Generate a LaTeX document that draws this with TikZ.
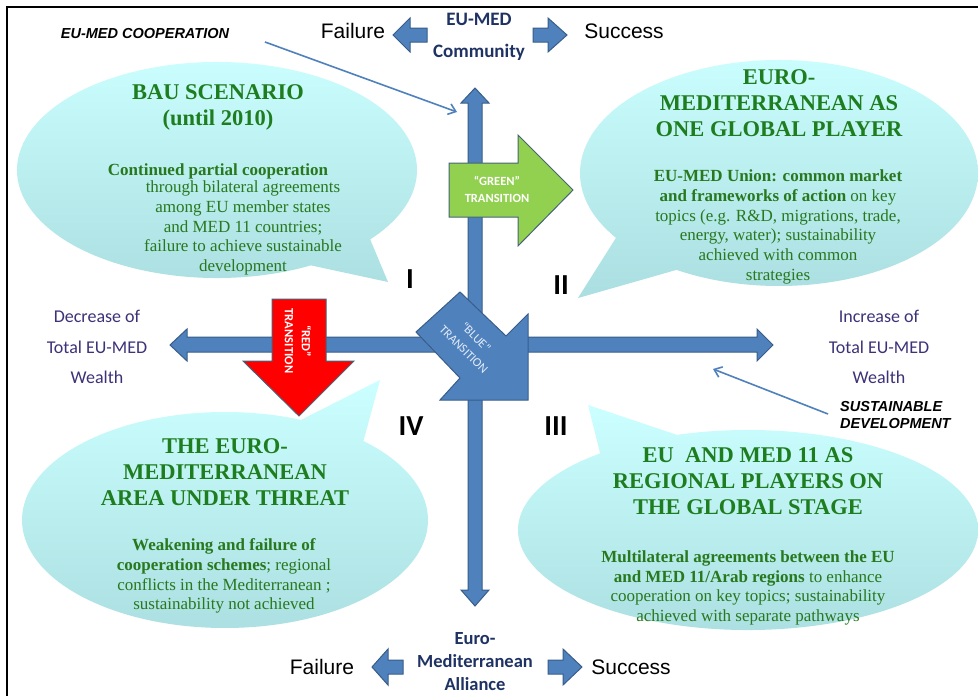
\documentclass[tikz,border=0pt]{standalone}
\usepackage{fontspec}
\setmainfont{Liberation Serif}
\newfontfamily\carlito{Carlito}
\newfontfamily\arialf{Liberation Sans}
\usetikzlibrary{calc,arrows.meta}
\definecolor{axisblue}{RGB}{79,129,189}
\definecolor{axisborder}{RGB}{56,93,138}
\definecolor{grfill}{RGB}{146,208,80}
\definecolor{grborder}{RGB}{70,100,120}
\definecolor{bubtop}{RGB}{204,255,255}
\definecolor{bubbot}{RGB}{170,222,224}
\definecolor{ttlgreen}{RGB}{30,125,30}
\definecolor{txtgreen}{RGB}{40,120,30}
\definecolor{navy}{RGB}{31,50,100}
\definecolor{purnavy}{RGB}{60,50,120}
\newcommand{\myfs}[2]{\fontsize{#1}{#2}\selectfont}
\tikzset{
  bubble/.style={top color=bubtop, bottom color=bubbot, draw=none},
  blockblue/.style={fill=axisblue, draw=axisborder, line width=1pt, line join=miter},
  ttl/.style={align=center, text=ttlgreen, font=\myfs{22.5}{26}\bfseries, inner sep=0pt},
  body/.style={align=center, text=txtgreen, font=\myfs{17}{19.7}, inner sep=0pt},
  thinarrow/.style={draw=axisblue, line width=1.6pt, -{Straight Barb[length=7pt,width=11pt]}},
  sidelbl/.style={align=center, text=purnavy, font=\carlito\myfs{18}{30.5}, inner sep=0pt},
  pole/.style={align=center, text=navy, font=\carlito\bfseries\myfs{19}{25}, inner sep=0pt},
  fs/.style={text=black, font=\arialf\myfs{21}{24}, inner sep=0pt},
  roman/.style={text=black, font=\carlito\bfseries\myfs{29}{30}, inner sep=0pt},
  trans/.style={align=center, text=white, font=\carlito\bfseries\myfs{12.5}{17}, inner sep=0pt},
  kw/.style={text=black, font=\arialf\bfseries\itshape\myfs{14.5}{17}, inner sep=0pt}
}
\begin{document}
\begin{tikzpicture}[x=1pt,y=-1pt]
\useasboundingbox (0,0) rectangle (978,696);
\fill[white] (0,0) rectangle (978,696);
% frame
\draw[black, line width=2pt] (7,700) -- (7,7) -- (982,7);

% speech bubbles
\path[bubble] ($(217,170)+(40:200 and 108)$) -- (388,282) -- ($(217,170)+(62:200 and 108)$)
  arc[start angle=62, end angle=400, x radius=200, y radius=108] -- cycle;
\path[bubble] ($(779,173)+(121:199 and 113)$) -- (578,298) -- ($(779,173)+(145:199 and 113)$)
  arc[start angle=145, end angle=481, x radius=199, y radius=113] -- cycle;
\path[bubble] ($(225,520)+(-68:203 and 108)$) -- (380,380) -- ($(225,520)+(-47:203 and 108)$)
  arc[start angle=-47, end angle=292, x radius=203, y radius=108] -- cycle;
\path[bubble] ($(748,530)+(-130:230 and 100)$) -- (588,405) -- ($(748,530)+(-108:230 and 100)$)
  arc[start angle=-108, end angle=230, x radius=230, y radius=100] -- cycle;

% bubble texts
\node[ttl] (t1) at (218,107) {BAU SCENARIO\\(until 2010)};
\node[body] (b1a) at (218,171) {\textbf{Continued partial cooperation}};
\node[body] (b1b) at (243,228) {through bilateral agreements\\among EU member states\\and MED 11 countries;\\failure to achieve sustainable\\development};

\node[ttl] (t2) at (779,103) {EURO-\\MEDITERRANEAN AS\\ONE GLOBAL PLAYER};
\node[body] (b2) at (778,227) {\textbf{EU-MED Union: common market}\\\textbf{and frameworks of action} on key\\topics (e.g. R\&D, migrations, trade,\\energy, water); sustainability\\achieved with common\\strategies};

\node[ttl] (t3) at (225,472) {THE EURO-\\MEDITERRANEAN\\AREA UNDER THREAT};
\node[body] (b3) at (224,576) {\textbf{Weakening and failure of}\\\textbf{cooperation schemes}; regional\\conflicts in the Mediterranean ;\\sustainability not achieved};

\node[ttl] (t4) at (748,481) {EU\ \ AND MED 11 AS\\REGIONAL PLAYERS ON\\THE GLOBAL STAGE};
\node[body] (b4) at (748,588) {\textbf{Multilateral agreements between the EU}\\\textbf{and MED 11/Arab regions} to enhance\\cooperation on key topics; sustainability\\achieved with separate pathways};

% axes
\path[blockblue] (475,88) -- (489,103) -- (482,103) -- (482,590) -- (489,590) -- (475,606)
  -- (461,590) -- (468,590) -- (468,103) -- (461,103) -- cycle;
\path[blockblue] (170,345) -- (187,329) -- (187,337) -- (757,337) -- (757,329) -- (773,345)
  -- (757,361) -- (757,352) -- (187,352) -- (187,361) -- cycle;

% transition arrows
\path[fill=grfill, draw=grborder, line width=1pt] (449,163) -- (518,163) -- (518,135) -- (573,190)
  -- (518,246) -- (518,217) -- (449,217) -- cycle;
\node[trans] (gt) at (497,189) {“GREEN”\\TRANSITION};

\path[fill=red, draw=grborder, line width=1pt] (272,299) -- (326,299) -- (326,361) -- (354,361)
  -- (299,416) -- (243,361) -- (272,361) -- cycle;
\node[trans, rotate=-90] (rt) at (298,341) {“RED”\\TRANSITION};

\path[blockblue] (460,292) -- (506,336) -- (528,314) -- (528,400) -- (440,400) -- (460,378)
  -- (416,332) -- cycle;
\node[trans, rotate=-45, text={rgb,255:red,225;green,235;blue,248}, font=\carlito\myfs{12.5}{17}] (bt) at (470,343) {“BLUE”\\TRANSITION};

% small block arrows top
\path[blockblue] (393,35) -- (410,18) -- (410,28) -- (427,28) -- (427,42) -- (410,42) -- (410,52) -- cycle;
\path[blockblue] (533,28) -- (548,28) -- (548,18) -- (567,35) -- (548,52) -- (548,42) -- (533,42) -- cycle;
% small block arrows bottom
\path[blockblue] (372,667) -- (388,649) -- (388,660) -- (403,660) -- (403,674) -- (388,674) -- (388,685) -- cycle;
\path[blockblue] (548,660) -- (563,660) -- (563,649) -- (582,667) -- (563,685) -- (563,674) -- (548,674) -- cycle;

% pole labels
\node[fs] (f1) at (353,31) {Failure};
\node[fs] (s1) at (624,31) {Success};
\node[pole] (p1) at (479,37) {EU-MED\\[7pt]Community};
\node[fs] (f2) at (322,667) {Failure};
\node[fs] (s2) at (631,667) {Success};
\node[pole, font=\carlito\bfseries\myfs{18.5}{23}] (p2) at (475,662) {Euro-\\Mediterranean\\Alliance};

\node[sidelbl] (dl) at (97,347) {Decrease of\\Total EU-MED\\Wealth};
\node[sidelbl] (il) at (879,347) {Increase of\\Total EU-MED\\Wealth};

% roman numerals
\node[roman] (r1) at (410,279) {I};
\node[roman] (r2) at (561,285) {II};
\node[roman] (r4) at (411,426) {IV};
\node[roman] (r3) at (556,426) {III};

% keyword labels and thin arrows
\node[kw] (coop) at (145,34) {EU-MED COOPERATION};
\node[kw, align=left, anchor=west] (sd) at (840,415) {SUSTAINABLE\\DEVELOPMENT};
\coordinate (c1s) at (265,42);
\coordinate (c1e) at (457,112);
\draw[thinarrow] (c1s) -- (c1e);
\coordinate (c2s) at (828,414);
\coordinate (c2e) at (713,369);
\draw[thinarrow] (c2s) -- (c2e);
\end{tikzpicture}
\end{document}
